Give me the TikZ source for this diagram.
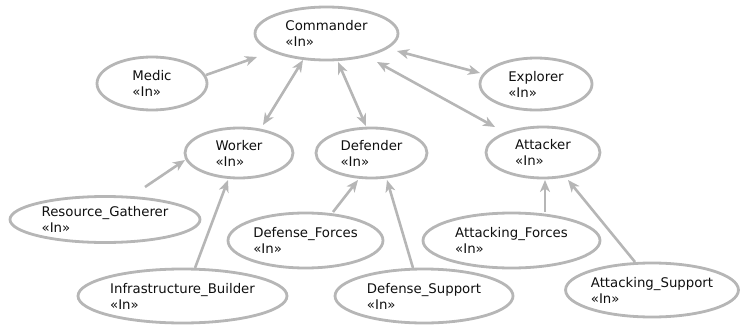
\documentclass[tikz,border=0pt]{standalone}
\usepackage{fontspec}
\setmainfont{DejaVu Sans}
\usetikzlibrary{arrows.meta,shapes.geometric}
\definecolor{edgegray}{RGB}{182,182,182}
\definecolor{txt}{RGB}{15,15,15}
\tikzset{
  usecase/.style={ellipse, draw=edgegray, line width=2.8pt, inner sep=0pt,
    align=left, text=txt, font=\fontsize{13.3}{16}\selectfont},
  conn/.style={draw=edgegray, line width=2.6pt,
    -{Stealth[length=12pt,width=10pt,inset=3.5pt]}},
  biconn/.style={draw=edgegray, line width=2.6pt,
    {Stealth[length=12pt,width=10pt,inset=3.5pt]}-{Stealth[length=12pt,width=10pt,inset=3.5pt]}}
}
\begin{document}
\begin{tikzpicture}[x=1pt,y=1pt]
\useasboundingbox (0,0) rectangle (747,-324);
\node[usecase, minimum width=143pt, minimum height=53pt] (cmd) at (326.5,-33.5) {Commander\\«In»};
\node[usecase, minimum width=110pt, minimum height=53pt] (medic) at (152,-83.5) {Medic\\«In»};
\node[usecase, minimum width=112pt, minimum height=52pt] (explorer) at (536,-84) {Explorer\\«In»};
\node[usecase, minimum width=108pt, minimum height=50pt] (worker) at (239,-153) {Worker\\«In»};
\node[usecase, minimum width=111pt, minimum height=50pt] (defender) at (371.5,-153) {Defender\\«In»};
\node[usecase, minimum width=114pt, minimum height=51pt] (attacker) at (543,-152.5) {Attacker\\«In»};
\node[usecase, minimum width=190pt, minimum height=46pt] (resg) at (105,-219.5) {Resource\_Gatherer\\«In»};
\node[usecase, minimum width=155pt, minimum height=55pt] (dforces) at (305.5,-240.5) {Defense\_Forces\\«In»};
\node[usecase, minimum width=209pt, minimum height=54pt] (infra) at (182.5,-296) {Infrastructure\_Builder\\«In»};
\node[usecase, minimum width=178pt, minimum height=54pt] (dsupport) at (424,-296) {Defense\_Support\\«In»};
\node[usecase, minimum width=177pt, minimum height=55pt] (aforces) at (511.5,-240.5) {Attacking\_Forces\\«In»};
\node[usecase, minimum width=170pt, minimum height=54pt] (asupport) at (652,-290) {Attacking\_Support\\«In»};

\draw[conn] ([shift={(54,8.5)}]medic.center) -- ([shift={(-69.5,-23.5)}]cmd.center);
\draw[biconn] ([shift={(-23.5,-26.5)}]cmd.center) -- ([shift={(24,28)}]worker.center);
\draw[biconn] ([shift={(11.5,-28.5)}]cmd.center) -- ([shift={(-5.5,27)}]defender.center);
\draw[biconn] ([shift={(50.5,-28.5)}]cmd.center) -- ([shift={(-48,25.5)}]attacker.center);
\draw[biconn] ([shift={(70.5,-17.5)}]cmd.center) -- ([shift={(-56,11)}]explorer.center);
\draw[conn] ([shift={(40,32.5)}]resg.center) -- ([shift={(-54,-7)}]worker.center);
\draw[conn] ([shift={(12.5,28)}]infra.center) -- ([shift={(-11,-27)}]worker.center);
\draw[conn] ([shift={(27.5,28.5)}]dforces.center) -- ([shift={(-13.5,-27)}]defender.center);
\draw[conn] ([shift={(-11,28)}]dsupport.center) -- ([shift={(15.5,-27)}]defender.center);
\draw[conn] ([shift={(33.5,28.5)}]aforces.center) -- ([shift={(2,-27.5)}]attacker.center);
\draw[conn] ([shift={(-17,28)}]asupport.center) -- ([shift={(25,-27.5)}]attacker.center);
\end{tikzpicture}
\end{document}
